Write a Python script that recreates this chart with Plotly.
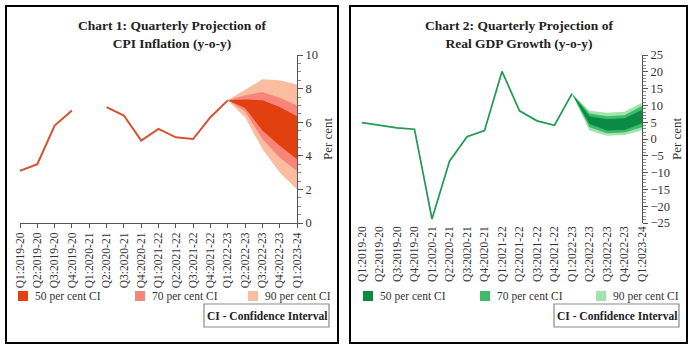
import plotly.graph_objects as go

# ---------------- data ----------------
quarters = ["Q1:2019-20", "Q2:2019-20", "Q3:2019-20", "Q4:2019-20",
            "Q1:2020-21", "Q2:2020-21", "Q3:2020-21", "Q4:2020-21",
            "Q1:2021-22", "Q2:2021-22", "Q3:2021-22", "Q4:2021-22",
            "Q1:2022-23", "Q2:2022-23", "Q3:2022-23", "Q4:2022-23",
            "Q1:2023-24"]

cpi_actual = [3.1, 3.5, 5.8, 6.7, None, 6.9, 6.4, 4.9, 5.6, 5.1, 5.0, 6.3, 7.3,
              None, None, None, None]
gdp_actual = [4.9, 4.2, 3.3, 2.9, -23.8, -6.6, 0.7, 2.5, 20.1, 8.4, 5.4, 4.1, 13.5,
              None, None, None, None]

proj_quarters = quarters[12:]

cpi_up90 = [7.3, 7.95, 8.55, 8.5, 8.25]
cpi_up70 = [7.3, 7.6, 7.8, 7.45, 7.0]
cpi_up50 = [7.3, 7.35, 7.3, 6.9, 6.35]
cpi_lo50 = [7.3, 6.85, 5.5, 4.6, 3.8]
cpi_lo70 = [7.3, 6.65, 5.0, 3.9, 3.1]
cpi_lo90 = [7.3, 6.3, 4.4, 3.0, 2.0]

gdp_up90 = [13.5, 8.4, 7.8, 8.1, 10.8]
gdp_up70 = [13.5, 7.6, 6.8, 7.1, 9.8]
gdp_up50 = [13.5, 6.8, 5.9, 6.2, 8.6]
gdp_lo50 = [13.5, 4.5, 2.5, 2.7, 4.7]
gdp_lo70 = [13.5, 3.5, 1.7, 1.9, 3.5]
gdp_lo90 = [13.5, 2.5, 1.0, 1.2, 2.5]

band_names = ["50 per cent CI", "70 per cent CI", "90 per cent CI"]
titles = ["<b>Chart 1: Quarterly Projection of<br>CPI Inflation (y-o-y)</b>",
          "<b>Chart 2: Quarterly Projection of<br>Real GDP Growth (y-o-y)</b>"]
y_title = "Per cent"

# ---------------- style ----------------
W, H = 694, 349
SERIF = "Liberation Serif"
cpi_line_col = "#D4532E"
cpi_cols = ["#E2400F", "#F8857A", "#FABDA0"]   # 50, 70, 90
gdp_line_col = "#209A52"
gdp_cols = ["#0B8A43", "#3DBB6B", "#A3E3AD"]
axis_col = "#555555"
text_col = "#333333"

idx = list(range(len(quarters)))
pidx = [quarters.index(q) for q in proj_quarters]

def px(x):
    return x / W

def py(y):
    return 1 - y / H

ydom = [py(223), py(55)]
xdomL = [px(20), px(297)]
xdomR = [px(362), px(642)]

fig = go.Figure()

def add_fan(bands, cols, xa, ya):
    for (up, lo), col in zip(bands, cols):
        fig.add_trace(go.Scatter(
            x=pidx + pidx[::-1], y=up + lo[::-1], fill="toself",
            fillcolor=col, mode="lines", line=dict(width=0, color=col),
            hoverinfo="skip", showlegend=False, xaxis=xa, yaxis=ya))

add_fan([(cpi_up90, cpi_lo90), (cpi_up70, cpi_lo70), (cpi_up50, cpi_lo50)],
        cpi_cols[::-1], "x", "y")
fig.add_trace(go.Scatter(x=idx, y=cpi_actual, mode="lines",
                         line=dict(color=cpi_line_col, width=2),
                         connectgaps=False, showlegend=False, xaxis="x", yaxis="y"))

add_fan([(gdp_up90, gdp_lo90), (gdp_up70, gdp_lo70), (gdp_up50, gdp_lo50)],
        gdp_cols[::-1], "x2", "y2")
fig.add_trace(go.Scatter(x=idx, y=gdp_actual, mode="lines",
                         line=dict(color=gdp_line_col, width=1.7),
                         connectgaps=False, showlegend=False, xaxis="x2", yaxis="y2"))

tickfont = dict(family=SERIF, size=11.5, color=text_col)
yfont = dict(family=SERIF, size=12.5, color=text_col)
n = len(quarters) - 1

common_x = dict(range=[0, n], tickmode="array", tickvals=idx, ticktext=quarters,
                tickangle=-90, showgrid=False, zeroline=False, tickfont=tickfont,
                automargin=False)

fig.update_layout(
    width=W, height=H, autosize=False,
    margin=dict(l=0, r=0, t=0, b=0, pad=0, autoexpand=False),
    paper_bgcolor="white", plot_bgcolor="white",
    showlegend=False,
    xaxis=dict(domain=xdomL, anchor="y", showline=True, linecolor=axis_col,
               linewidth=1, ticks="outside", ticklen=4, tickcolor=axis_col,
               **common_x),
    yaxis=dict(domain=ydom, anchor="x", side="right", range=[0, 10], dtick=2,
               showline=True, linecolor=axis_col, linewidth=1,
               ticks="outside", ticklen=5, tickcolor=axis_col,
               minor=dict(dtick=0.5, ticks="outside", ticklen=3, tickcolor="#888"),
               showgrid=False, zeroline=False, tickfont=yfont, automargin=False),
    yaxis3=dict(domain=ydom, anchor="x", overlaying="y", side="right", range=[0, 10],
                dtick=2, ticks="inside", ticklen=4, tickcolor=axis_col, automargin=False,
                showticklabels=False, showline=False, showgrid=False, zeroline=False),
    xaxis2=dict(domain=xdomR, anchor="free", position=ydom[0], showline=False,
                ticks="", **common_x),
    xaxis3=dict(domain=xdomR, anchor="free", overlaying="x2",
                position=ydom[0] + (ydom[1] - ydom[0]) * (0 - (-25)) / 50,
                range=[0, n], tickmode="array", tickvals=idx, automargin=False,
                showticklabels=False, showline=True, linecolor=axis_col, linewidth=1,
                ticks="outside", ticklen=4, tickcolor=axis_col,
                showgrid=False, zeroline=False),
    yaxis2=dict(domain=ydom, anchor="x2", side="right", range=[-25, 25], dtick=5,
                showline=True, linecolor=axis_col, linewidth=1,
                ticks="outside", ticklen=5, tickcolor=axis_col,
                minor=dict(dtick=1, ticks="outside", ticklen=3, tickcolor="#888"),
                showgrid=False, zeroline=False, tickfont=yfont, automargin=False),
    yaxis4=dict(domain=ydom, anchor="x2", overlaying="y2", side="right", range=[-25, 25],
                dtick=5, ticks="inside", ticklen=4, tickcolor=axis_col, automargin=False,
                showticklabels=False, showline=False, showgrid=False, zeroline=False),
)

shapes = []
annotations = []

for x0, x1 in [(6, 338), (350, 687)]:
    shapes.append(dict(type="rect", xref="paper", yref="paper",
                       x0=px(x0), x1=px(x1), y0=py(343), y1=py(6),
                       line=dict(color="black", width=2)))

for title, cx in zip(titles, [172, 519]):
    annotations.append(dict(text=title, xref="paper", yref="paper", x=px(cx), y=py(34),
                            xanchor="center", yanchor="middle", showarrow=False,
                            font=dict(family=SERIF, size=13.5, color="#222")))

# y-axis titles
for tx in [327, 676]:
    annotations.append(dict(text=y_title, xref="paper", yref="paper", x=px(tx), y=py(139),
                            xanchor="center", yanchor="middle", textangle=-90,
                            showarrow=False,
                            font=dict(family=SERIF, size=13, color=text_col)))

legend_sets = [([18, 135, 248], cpi_cols), ([363, 480, 596], gdp_cols)]
for xs, cols in legend_sets:
    for xs0, col, name in zip(xs, cols, band_names):
        shapes.append(dict(type="rect", xref="paper", yref="paper",
                           x0=px(xs0), x1=px(xs0 + 10), y0=py(301), y1=py(291),
                           fillcolor=col, line=dict(width=0)))
        annotations.append(dict(text=name, xref="paper", yref="paper",
                                x=px(xs0 + 15), y=py(296), xanchor="left", yanchor="middle",
                                showarrow=False,
                                font=dict(family=SERIF, size=11.5, color=text_col)))

for bx0, bx1 in [(204, 329), (554, 679)]:
    shapes.append(dict(type="rect", xref="paper", yref="paper",
                       x0=px(bx0), x1=px(bx1), y0=py(327), y1=py(304),
                       line=dict(color="#8a8a8a", width=1.2)))
    annotations.append(dict(text="<b>CI - Confidence Interval</b>", xref="paper", yref="paper",
                            x=px((bx0 + bx1) / 2), y=py(315.5), xanchor="center",
                            yanchor="middle", showarrow=False,
                            font=dict(family=SERIF, size=11.5, color="#222")))

fig.update_layout(shapes=shapes, annotations=annotations)

fig.write_html("out.html", post_script="document.body.style.margin='0';")
